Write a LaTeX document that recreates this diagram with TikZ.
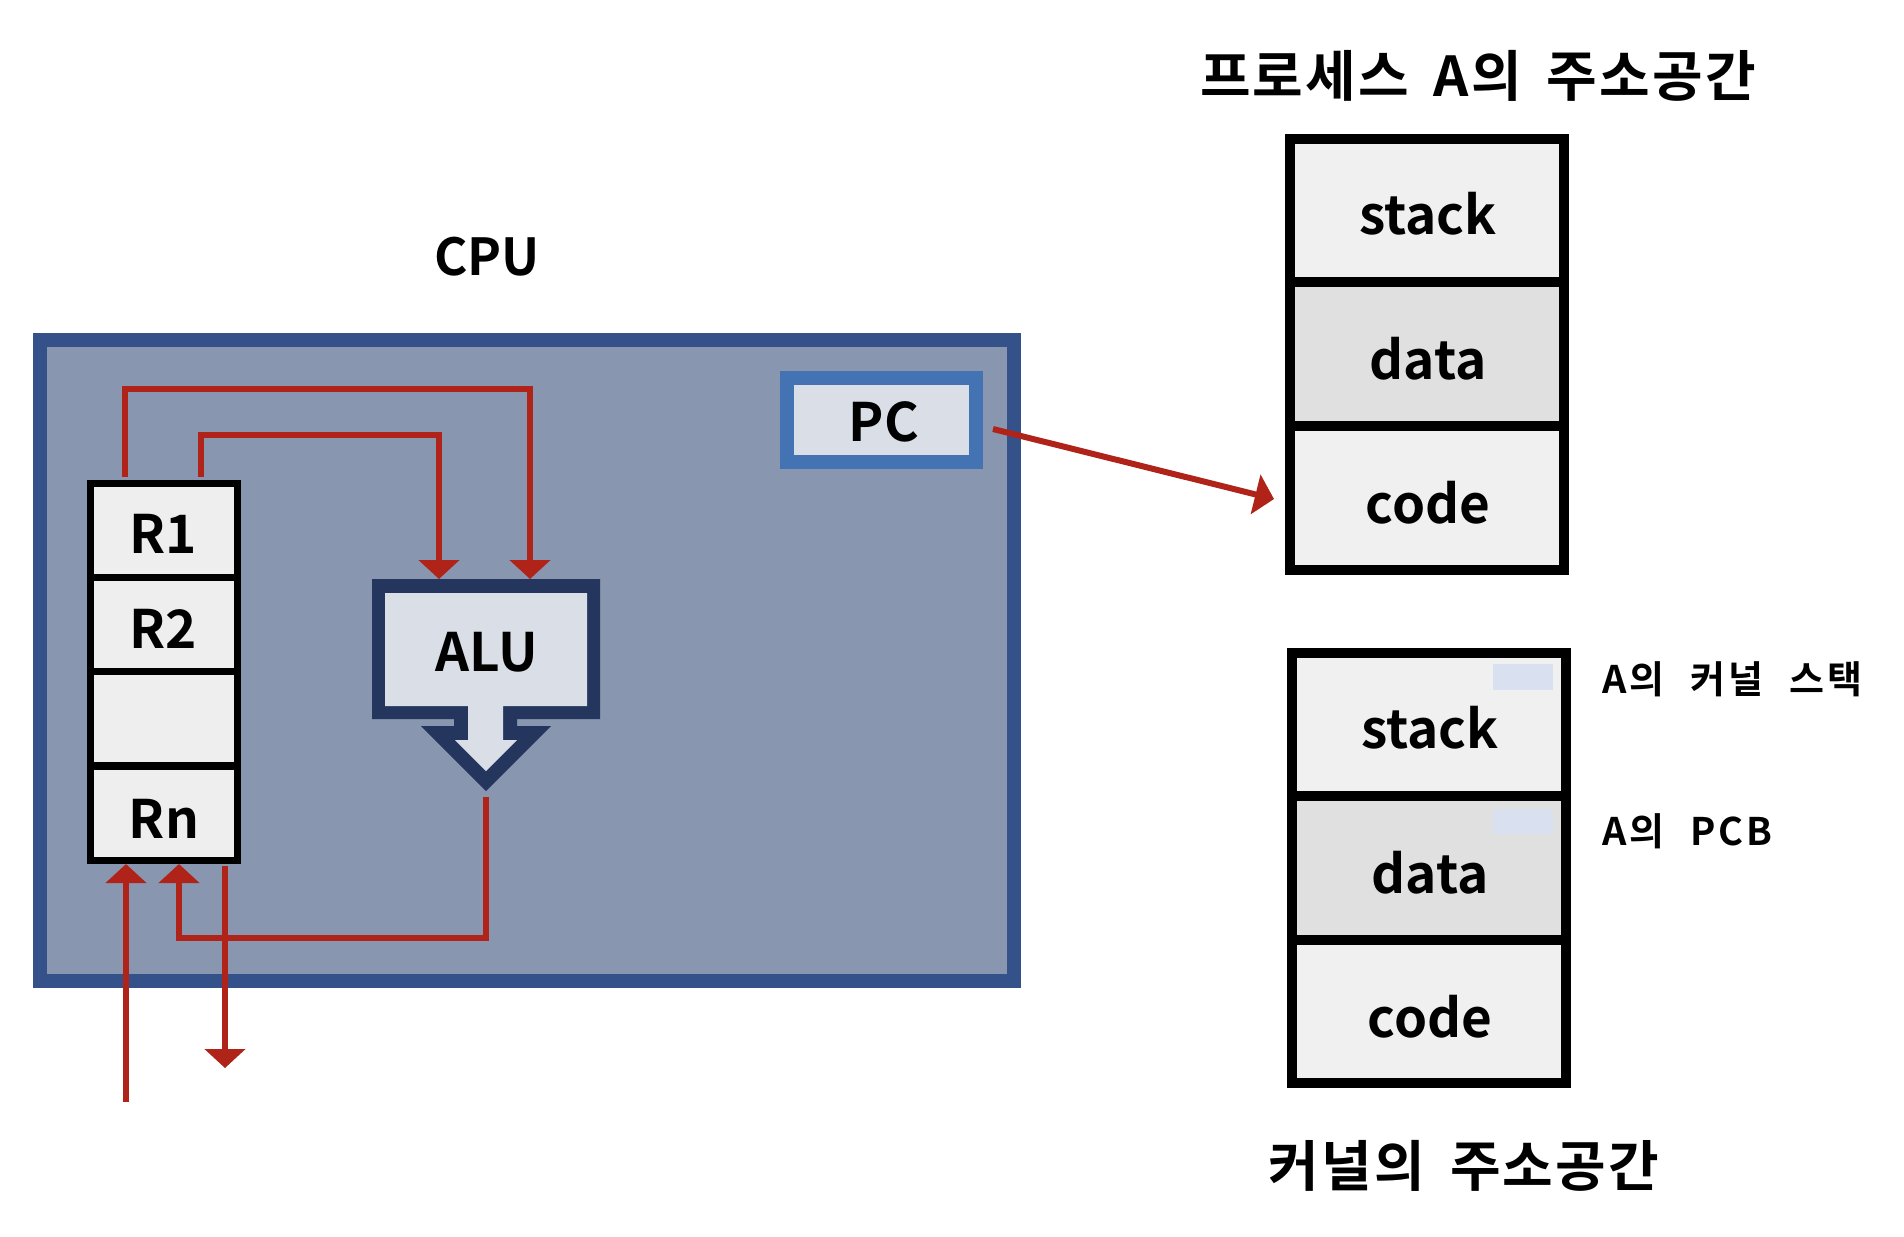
\documentclass[tikz,border=0pt]{standalone}
\usepackage{fontspec}
\setmainfont{Noto Sans CJK KR}[BoldFont={* Bold}]
\newfontfamily\krtitle{Noto Sans CJK KR}[BoldFont={* Bold},LetterSpace=4,WordSpace=1.7]
\newfontfamily\krwide{Noto Sans CJK KR}[BoldFont={* Bold},LetterSpace=8,WordSpace=2.2]
\usetikzlibrary{arrows.meta}
\definecolor{cpuborder}{RGB}{53,81,138}
\definecolor{cpufill}{RGB}{137,150,175}
\definecolor{pcborder}{RGB}{68,115,180}
\definecolor{lightfill}{RGB}{217,222,231}
\definecolor{aluborder}{RGB}{37,54,94}
\definecolor{regfill}{RGB}{238,238,238}
\definecolor{redc}{RGB}{176,35,24}
\definecolor{celllight}{RGB}{240,240,240}
\definecolor{celldark}{RGB}{224,224,224}
\definecolor{smallblue}{RGB}{217,224,240}
\tikzset{
  lbl/.style={font=\fontsize{21.2pt}{26pt}\selectfont\bfseries, inner sep=0pt},
  regcell/.style={draw=black, line width=2.8pt, fill=regfill, minimum width=58.8pt, minimum height=37.6pt, inner sep=0pt},
  memcell/.style={draw=black, line width=4pt, minimum width=109.6pt, minimum height=57.4pt, inner sep=0pt},
  redarr/.style={draw=redc, line width=2.4pt, line join=miter, -{Triangle[width=16pt,length=7.6pt]}},
  ktitle/.style={font=\krtitle\fontsize{22pt}{26pt}\selectfont\bfseries, inner sep=0pt},
  ksmall/.style={font=\krwide\fontsize{15.2pt}{18pt}\selectfont\bfseries, inner sep=0pt, anchor=west}
}
\begin{document}
\begin{tikzpicture}[x=0.4pt,y=-0.4pt]
\useasboundingbox (0,0) rectangle (1904,1236);

% CPU
\node[font=\fontsize{20.4pt}{24pt}\selectfont\bfseries, inner sep=0pt] (cputitle) at (487,257) {CPU};
\node[draw=cpuborder, fill=cpufill, line width=5.6pt, minimum width=389.6pt, minimum height=256.4pt, inner sep=0pt] (cpu) at (527,660.5) {};

% PC
\node[draw=pcborder, fill=lightfill, line width=5.6pt, minimum width=75.6pt, minimum height=33.4pt, inner sep=0pt] (pc) at (881.5,419.75) {};
\node[lbl] (pctext) at (884,422) {PC};

% registers
\node[regcell] (r1) at (163.5,530) {};
\node[regcell] (r2) at (163.5,624) {};
\node[regcell] (r3) at (163.5,718.5) {};
\node[regcell] (rn) at (163.5,813) {};
\node[lbl] (r1t) at (163,533.5) {R1};
\node[lbl] (r2t) at (163,629) {R2};
\node[lbl] (rnt) at (164,819) {Rn};

% ALU
\fill[aluborder] (372,579) -- (600,579) -- (600,719) -- (517,719) -- (517,726) -- (551,726) -- (486,791) -- (421,726) -- (454,726) -- (454,719) -- (372,719) -- cycle;
\fill[lightfill] (385,593) -- (587,593) -- (587,706) -- (503,706) -- (503,740) -- (517,740) -- (486,771) -- (455,740) -- (468,740) -- (468,706) -- (385,706) -- cycle;
\node[lbl] (alu) at (487,652) {ALU};

% process A address space
\node[ktitle] (ptitle) at (1478,76) {프로세스 A의 주소공간};
\node[memcell, fill=celllight] (pstack) at (1427,210.5) {};
\node[memcell, fill=celldark] (pdata) at (1427,354) {};
\node[memcell, fill=celllight] (pcode) at (1427,498) {};
\node[lbl] (pstackt) at (1428,214) {stack};
\node[lbl] (pdatat) at (1428,359) {data};
\node[lbl] (pcodet) at (1428,503) {code};

% kernel address space
\node[memcell, fill=celllight] (kstack) at (1428.5,724.5) {};
\node[memcell, fill=celldark] (kdata) at (1428.5,868) {};
\node[memcell, fill=celllight] (kcode) at (1428.5,1011.25) {};
\node[lbl] (kstackt) at (1430,728) {stack};
\node[lbl] (kdatat) at (1430,873) {data};
\node[lbl] (kcodet) at (1430,1017) {code};
\fill[smallblue] (1493,664) rectangle (1553,690);
\fill[smallblue] (1493,809) rectangle (1553,834);
\node[ksmall] (lks) at (1602,679) {A의 커널 스택};
\node[ksmall] (lpcb) at (1602,831) {A의 PCB};
\node[ktitle] (ktitle) at (1464,1166) {커널의 주소공간};

% connectors
\coordinate (r1top) at (125,477);
\coordinate (r2top) at (201,477);
\coordinate (aluinA) at (439,579);
\coordinate (aluinB) at (530,579);
\coordinate (cA) at (530,389);
\coordinate (cB) at (439,435);
\coordinate (aluout) at (486,797);
\coordinate (cC) at (179,938);
\coordinate (rnin) at (179,864);
\coordinate (inbot) at (126,1102);
\coordinate (rnin2) at (126,864);
\coordinate (rnout) at (225,866);
\coordinate (outend) at (225,1068);
\coordinate (pcout) at (993,429);
\coordinate (codein) at (1274,499);

\draw[redarr] (r1top) |- (cA) -- (aluinB);
\draw[redarr] (r2top) |- (cB) -- (aluinA);
\draw[redarr] (aluout) |- (cC) -- (rnin);
\draw[redarr] (inbot) -- (rnin2);
\draw[redarr] (rnout) -- (outend);
\draw[redarr] (pcout) -- (codein);
\end{tikzpicture}
\end{document}
